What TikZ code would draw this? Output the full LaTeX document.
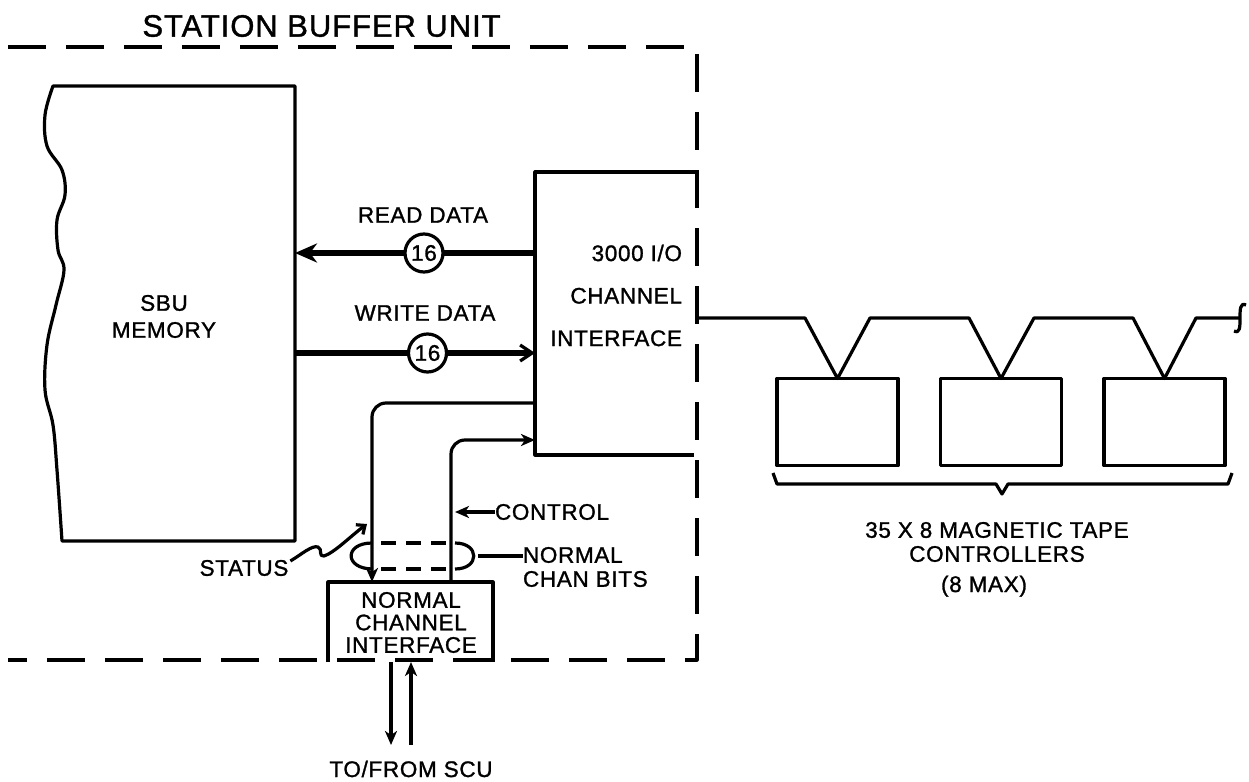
\documentclass[tikz,border=0pt]{standalone}
\usepackage{fontspec}
\setmainfont[FakeBold=1.2,LetterSpace=3]{Liberation Sans}
\usetikzlibrary{arrows.meta}
\begin{document}
\begin{tikzpicture}[x=1pt,y=-1pt,line join=round,
  every node/.style={inner sep=0pt,outer sep=0pt},
  lbl/.style={font=\fontsize{22.5}{27}\selectfont},
  ln/.style={line width=3.2pt},
  bound/.style={line width=3.2pt,dash pattern=on 38pt off 20pt},
  buswide/.style={line width=6.5pt},
  tipthin/.style={-{Stealth[length=14pt,width=12pt,inset=4pt]}},
  tipbig/.style={-{Stealth[length=22pt,width=19pt,inset=7pt]}},
  tipbarb/.style={-{Straight Barb[length=12pt,width=16pt,line width'=3.2pt]}},
  tipsq/.style={-{Straight Barb[length=7pt,width=12pt,line width'=3.2pt]}},
  numc/.style={circle,draw,fill=white,line width=3.2pt,minimum size=38pt,font=\fontsize{22.5}{27}\selectfont},
  tape/.style={draw,line width=3.2pt,minimum width=121pt,minimum height=87pt},
]
\useasboundingbox (0,0) rectangle (1249,781);
\fill[white] (0,0) rectangle (1249,781);

% title and boundary
\node[font=\fontsize{31}{36}\selectfont] (title) at (321.5,26) {STATION BUFFER UNIT};
\draw[bound] (8,47) -- (697,47) -- (697,660) -- (8,660);

% SBU memory
\draw[ln] plot[smooth,tension=0.6] coordinates {(53,86) (45,115) (47,146) (62,170) (65,195) (57,220) (58,250) (64,270) (56,305) (47,345) (45,390) (53,425) (57,470) (62,541)} -- (295,541) -- (295,86) -- cycle;
\node[lbl,align=center] (mem) at (164,316.5) {SBU\\MEMORY};
\coordinate (memR1) at (295,253);
\coordinate (memR2) at (295,353);

% channel interface
\node[minimum width=162pt,minimum height=283pt,anchor=north west] (chan) at (535,172) {};
\draw[ln] (chan.north east) -- (chan.north west) -- (chan.south west) -- ([xshift=-3pt]chan.south east);
\node[font=\fontsize{22.5}{42.5}\selectfont,align=right,anchor=east] (chant) at (682,295.5) {3000 I/O\\CHANNEL\\INTERFACE};

% read / write data
\draw[buswide,tipbig] (chan.west |- memR1) -- (memR1);
\node[numc] (c1) at (424,253) {16};
\node[lbl] (rd) at (423,215) {READ DATA};
\draw[buswide,tipbarb] (memR2) -- (chan.west |- memR2);
\node[numc] (c2) at (427.5,353) {16};
\node[lbl] (wd) at (425,313) {WRITE DATA};

% normal channel interface
\node[minimum width=165pt,minimum height=80pt,anchor=north west] (nci) at (328,582) {};
\draw[ln] (nci.south west) -- (nci.north west) -- (nci.north east) -- (nci.south east);
\node[font=\fontsize{22.5}{22.5}\selectfont,align=center] (ncit) at (411,622.5) {NORMAL\\CHANNEL\\INTERFACE};

% status and control
\draw[ln,rounded corners=14pt,tipthin] (chan.west |- 0,403) -| (nci.north -| 372,0);
\draw[ln,rounded corners=14pt,tipthin] (nci.north -| 451,0) |- (chan.west |- 0,440);
\node[lbl,anchor=west] (ctl) at (495,512) {CONTROL};
\coordinate (ctlT) at (455,512);
\draw[ln,tipthin] (ctl.west) -- (ctlT);

% bundle ellipse
\draw[ln] (372,543) .. controls (344,543) and (344,569) .. (373,569);
\draw[ln] (455,543) .. controls (480,543) and (480,569) .. (455,569);
\draw[ln,dash pattern=on 15pt off 10pt] (381,543) -- (447,543);
\draw[ln,dash pattern=on 15pt off 10pt] (381,569) -- (447,569);
\coordinate (ncbA) at (478,556);
\node[font=\fontsize{22.5}{24}\selectfont,align=left,anchor=west] (ncb) at (523,567) {NORMAL\\CHAN BITS};
\draw[ln] (ncbA) -- (ncb.west |- ncbA);

% status label
\node[lbl] (stat) at (244,568) {STATUS};
\draw[ln,tipsq] ([xshift=2pt,yshift=7pt]stat.east) .. controls (302,554) and (312,545) .. (318,547) .. controls (323,549) and (318,557) .. (324,556) .. controls (334,553) and (352,535) .. (367,524);

% to / from SCU
\coordinate (dn) at (391,745);
\coordinate (up) at (411,745);
\draw[ln,tipthin] (nci.south -| dn) -- (dn);
\draw[ln,tipthin] (up) -- (nci.south -| up);
\node[lbl,anchor=base] (scu) at (411,777) {TO/FROM SCU};

% tape controllers
\node[tape] (t1) at (837.5,422) {};
\node[tape] (t2) at (1001,422) {};
\node[tape] (t3) at (1164.5,422) {};
\draw[ln] (chan.east |- 0,318) -- (805,318) -- (t1.north) -- (870,318) -- (969,318) -- (t2.north) -- (1034,318) -- (1133,318) -- (t3.north) -- (1196,318) -- (1239,318) coordinate (busEnd);
\draw[ln] (1246,305) .. controls (1240,302) and (1240,310) .. (1240,318) .. controls (1240,327) and (1240,334) .. (1234,331);
\draw[ln] (773,473) -- (777,484) -- (996,484) -- (1002,494) -- (1008,484) -- (1228,484) -- (1232,473);
\node[lbl] (mt1) at (997,530) {35 X 8 MAGNETIC TAPE};
\node[lbl] (mt2) at (997,554) {CONTROLLERS};
\node[lbl,anchor=base] (mt3) at (984,592) {(8 MAX)};
\end{tikzpicture}
\end{document}
